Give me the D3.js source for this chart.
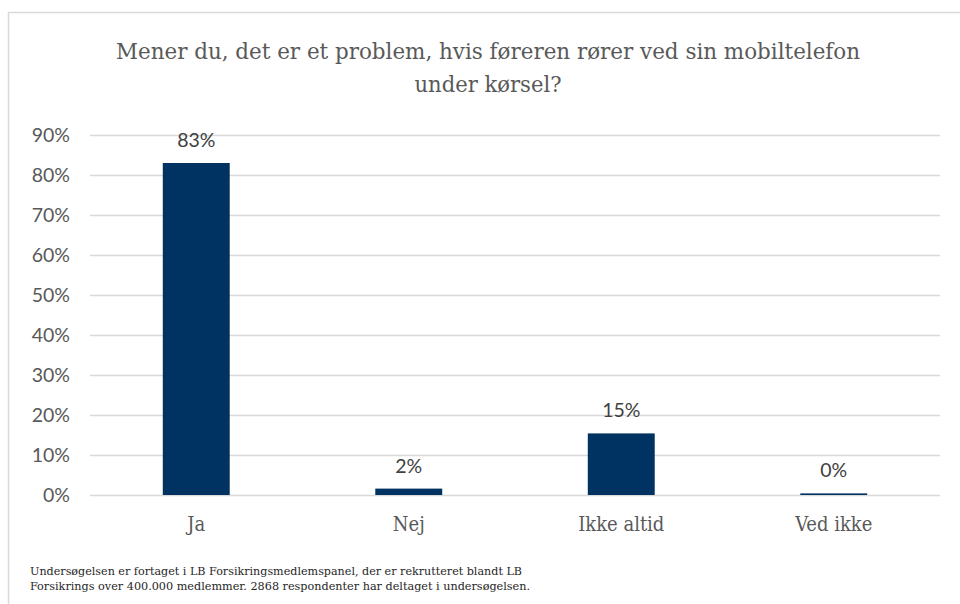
<!DOCTYPE html>
<html>
<head>
<meta charset="utf-8">
<script src="https://cdn.jsdelivr.net/npm/d3@7"></script>
<style>
  body { margin: 0; background: #fff; }
  svg { display: block; }
</style>
</head>
<body>
<svg id="chart" width="960" height="604"></svg>
<script>
// data
const categories = ["Ja", "Nej", "Ikke altid", "Ved ikke"];
const values = [83, 1.6, 15.4, 0.4];
const valueLabels = ["83%", "2%", "15%", "0%"];
const yTicks = [0, 10, 20, 30, 40, 50, 60, 70, 80, 90];
const titleLines = [
  "Mener du, det er et problem, hvis føreren rører ved sin mobiltelefon",
  "under kørsel?"
];
const noteLines = [
  "Undersøgelsen er fortaget i LB Forsikringsmedlemspanel,  der er rekrutteret blandt LB",
  "Forsikrings over 400.000 medlemmer.  2868 respondenter har deltaget i undersøgelsen."
];

const svg = d3.select("#chart");
const grey = "#595959";
const serif = "'DejaVu Serif Condensed', 'DejaVu Serif', serif";
const sans = "Lato, 'Open Sans', sans-serif";

// chart frame (right and bottom edges run off the picture)
svg.append("path")
  .attr("d", "M8.5,604 V12.5 H960")
  .attr("fill", "none")
  .attr("stroke", "#d9d9d9")
  .attr("stroke-width", 1.5);

const x = d3.scaleBand()
  .domain(categories)
  .range([90, 940])
  .paddingInner(0.685)
  .paddingOuter(0.3425);

const y = d3.scaleLinear()
  .domain([0, 90])
  .range([495, 135]);

// title, fitted to the width it has in the picture
const titleWidths = [744, 147];
svg.append("g").selectAll("text")
  .data(titleLines)
  .join("text")
  .attr("x", 488)
  .attr("y", (d, i) => 59 + i * 33)
  .attr("text-anchor", "middle")
  .attr("font-family", serif)
  .attr("font-size", 23)
  .attr("fill", grey)
  .attr("textLength", (d, i) => titleWidths[i])
  .attr("lengthAdjust", "spacingAndGlyphs")
  .text(d => d);

// gridlines + y labels
const yAxis = svg.append("g")
  .attr("transform", "translate(90,0)")
  .call(d3.axisLeft(y)
    .tickValues(yTicks)
    .tickSize(-850)
    .tickPadding(20)
    .tickFormat(d => d + "%"));
yAxis.select(".domain").remove();
yAxis.selectAll(".tick line")
  .attr("stroke", "#d9d9d9")
  .attr("stroke-width", 1.5);
yAxis.selectAll(".tick text")
  .attr("fill", grey)
  .attr("font-family", sans)
  .attr("font-size", 19.5);

// bars
svg.append("g").selectAll("rect")
  .data(values)
  .join("rect")
  .attr("x", (d, i) => x(categories[i]))
  .attr("y", d => y(d))
  .attr("width", x.bandwidth())
  .attr("height", d => y(0) - y(d))
  .attr("fill", "#003361");

// value labels
svg.append("g").selectAll("text")
  .data(values)
  .join("text")
  .attr("x", (d, i) => x(categories[i]) + x.bandwidth() / 2)
  .attr("y", d => y(d) - 16)
  .attr("text-anchor", "middle")
  .attr("font-family", sans)
  .attr("font-size", 19.5)
  .attr("fill", "#404040")
  .text((d, i) => valueLabels[i]);

// category labels
const xAxis = svg.append("g")
  .attr("transform", "translate(0,495)")
  .call(d3.axisBottom(x).tickSize(0).tickPadding(22));
xAxis.select(".domain").remove();
xAxis.selectAll(".tick text")
  .attr("fill", grey)
  .attr("font-family", serif)
  .attr("font-size", 20);

// footnote
const noteWidths = [492, 500];
svg.append("g").selectAll("text")
  .data(noteLines)
  .join("text")
  .attr("x", 30)
  .attr("y", (d, i) => 575 + i * 15)
  .attr("font-family", serif)
  .attr("font-size", 10.5)
  .attr("fill", "#262626")
  .attr("textLength", (d, i) => noteWidths[i])
  .attr("lengthAdjust", "spacingAndGlyphs")
  .text(d => d);
</script>
</body>
</html>
